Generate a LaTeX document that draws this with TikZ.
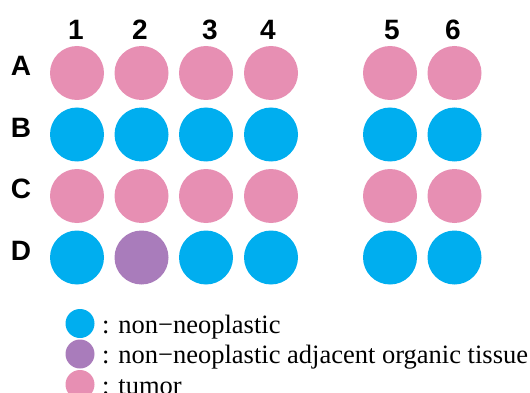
\documentclass[tikz,border=0pt]{standalone}
\usepackage{fontspec}
\setmainfont{Liberation Serif}
\setsansfont{Liberation Sans}
\usetikzlibrary{positioning}
\definecolor{cpink}{HTML}{E78FB3}
\definecolor{cblue}{HTML}{00AEEF}
\definecolor{cpurple}{HTML}{A97CBB}
\tikzset{
  every picture/.style={x=1pt, y=-1pt},
  well/.style={circle, fill=#1, minimum size=54pt, inner sep=0pt},
  key/.style={circle, fill=#1, minimum size=29pt, inner sep=0pt},
  head/.style={font=\sffamily\bfseries\fontsize{28}{28}\selectfont, inner sep=0pt},
  note/.style={font=\fontsize{26.5}{26.5}\selectfont, anchor=base west, inner sep=0pt},
}

\begin{document}
\begin{tikzpicture}
  \path[use as bounding box, clip] (0,0) rectangle (530,393);
  % column numbers
  \foreach \k/\x in {1/76, 2/140, 3/210, 4/268, 5/392, 6/453}
    \node[head] (col\k) at (\x,30) {\k};
  % plate: row letter, then six wells
  \foreach \r/\y/\cs in {A/73/{cpink,cpink,cpink,cpink,cpink,cpink},
      B/134.5/{cblue,cblue,cblue,cblue,cblue,cblue},
      C/196/{cpink,cpink,cpink,cpink,cpink,cpink},
      D/257.5/{cblue,cpurple,cblue,cblue,cblue,cblue}} {
    \node[head] (row\r) at (21,\y-7) {\r};
    \foreach \c [count=\k] in \cs {
      \pgfmathsetmacro{\x}{{77,141.5,206,271,390,454.5}[\k-1]}
      \node[well=\c] (\r\k) at (\x,\y) {};
    }
  }
  % legend
  \node[key=cblue] (key1) at (80,323.5) {};
  \node[key=cpurple] (key2) at (80,354) {};
  \node[key=cpink] (key3) at (80,384.5) {};
  \node[note] (txt1) at (102,333) {: non−neoplastic};
  \node[note] (txt2) at (102,363.5) {: non−neoplastic adjacent organic tissue};
  \node[note] (txt3) at (102,394) {: tumor};
\end{tikzpicture}
\end{document}
